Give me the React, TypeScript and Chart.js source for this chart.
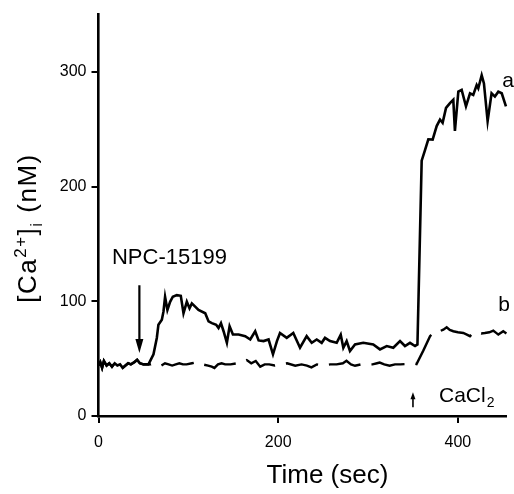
import React, { useEffect, useRef } from "react";
import { Chart, registerables } from "chart.js";

Chart.register(...registerables);

// Trace a (solid)
const timeA = [0, 2, 4, 6, 9, 12, 15, 18, 21, 24, 27, 30, 33, 36, 40, 43, 46, 50, 53, 55.6, 61.2, 64.9, 66.7, 70.5, 72.3, 74.1, 76.7, 79.7, 82.7, 87.1, 91.6, 94.6, 98.3, 101.3, 103.9, 107.6, 111.3, 118.8, 122.5, 126.2, 131, 133.6, 136.3, 139.2, 142.9, 145.9, 149.6, 155.9, 163.3, 168.9, 174.4, 178.2, 183.7, 189.3, 194.2, 198.6, 202, 209.5, 216.8, 224.3, 231.7, 237.3, 242.9, 248.4, 252.1, 257.7, 265.1, 269.6, 272.5, 276.2, 279.9, 285.5, 294.7, 305.8, 313.3, 320.8, 328.1, 335.6, 341.1, 346.7, 352.3, 355, 359.7, 363.5, 367.1, 371.9, 376.4, 380.1, 383, 386.8, 391.2, 394.9, 396.7, 400.5, 404.2, 409, 413.5, 417.1, 420.9, 422.7, 426.5, 429, 433.1, 437.5, 441.2, 445, 448.8, 453.5];
const valuesA = [44, 47, 42, 48, 44, 46, 43, 46, 44, 45, 42, 44, 46, 45, 47, 49, 46, 45, 45, 45, 53.8, 68, 79.6, 83.9, 91, 103.9, 92.5, 99.6, 104, 105.4, 104.8, 89.6, 99.6, 93.9, 98.2, 95.3, 92.5, 89.6, 82.5, 81, 79.6, 76.7, 81, 73.9, 63.8, 78.2, 71, 71, 69.6, 66.7, 73.9, 65.9, 65.3, 66.7, 53.8, 65.3, 72.4, 68.1, 72.4, 59.5, 69.6, 63.8, 66.7, 63.8, 68.1, 65.3, 63.8, 70.8, 59.5, 65.3, 56.7, 62.4, 63.8, 62.4, 58.1, 61, 59.5, 65.3, 61, 63.8, 61, 62.4, 222.7, 232, 241.3, 241, 252.8, 258.5, 255.7, 268.6, 272.8, 275.7, 248.5, 282.8, 284.3, 270, 281.4, 280, 288.6, 285.7, 297.1, 290, 257.1, 281.4, 278.5, 282.8, 281.4, 270];

// Trace b (dashed)
const timeB = [0, 2, 4, 6, 9, 12, 15, 18, 21, 24, 27, 30, 33, 36, 40, 43, 46, 50, 53, 58, 62, 66, 70, 74, 78, 82, 86, 90, 94, 98, 104, 110, 116, 122, 126, 129, 133, 137, 141, 147, 154, 160, 165, 170, 175, 180, 185, 190, 196, 203, 210, 219, 226, 232, 237, 243, 250, 258, 265, 272, 276, 281, 285.5, 292, 298, 305, 310, 313, 318, 324, 330, 336, 343, 350, 354, 361.5, 369, 374.5, 380, 383.8, 387.5, 391, 394.9, 400, 406, 410, 413.5, 417, 422, 426, 430, 435, 439.4, 445, 450.5, 454];
const valuesB = [44, 47, 42, 48, 44, 46, 43, 46, 44, 45, 42, 44, 46, 45, 47, 49, 46, 45, 45, 45, 46, 45, 44, 46, 45, 44, 45, 46, 45, 45, 46, 47, 45, 44, 43, 41.9, 45, 46, 45, 45, 46, 47, 48.8, 46, 48, 43, 45, 45, 44, 45, 46, 43.8, 45, 44, 42.4, 45, 44, 45, 45, 46, 48.1, 45, 43.8, 45, 45, 45, 46, 46.6, 45, 43.8, 45, 45, 45.3, 46, 45.3, 57, 69.6, 73.9, 74, 75.3, 77.3, 75, 73.9, 73, 72.4, 71, 69.6, 72.4, 73, 72, 72.4, 73, 74.5, 71, 73.9, 72];

// Axis settings
const xMax = 454;
const yMax = 350;
const tickStep = 100;
const xTickStep = 200;

// Annotations (data coordinates)
const npcLabel = { text: "NPC-15199", x: 15, y: 132.5 };
const npcArrow = { x: 45.5, yFrom: 114, yTo: 55 };
const caLabel = { text: "CaCl", sub: "2", x: 379, y: 12.3 };
const caArrow = { x: 350, yFrom: 7.7, yTo: 20.6 };
const labelA = { text: "a", x: 455.8, y: 292 };
const labelB = { text: "b", x: 451.3, y: 97 };

const FONT = "'Liberation Sans', Arial, Helvetica, sans-serif";

const annotationPlugin = {
  id: "annotations",
  afterDraw(chart: any) {
    const ctx = chart.ctx as CanvasRenderingContext2D;
    const xs = chart.scales.x;
    const ys = chart.scales.y;
    const px = (v: number) => xs.getPixelForValue(v);
    const py = (v: number) => ys.getPixelForValue(v);
    ctx.save();
    ctx.fillStyle = "#000";
    ctx.strokeStyle = "#000";

    // NPC label
    ctx.font = `22px ${FONT}`;
    ctx.textAlign = "left";
    ctx.textBaseline = "alphabetic";
    ctx.fillText(npcLabel.text, px(npcLabel.x), py(npcLabel.y));

    // NPC arrow
    const ax = px(npcArrow.x);
    const ay1 = py(npcArrow.yFrom);
    const ay2 = py(npcArrow.yTo);
    ctx.lineWidth = 2.2;
    ctx.beginPath();
    ctx.moveTo(ax, ay1);
    ctx.lineTo(ax, ay2 - 8);
    ctx.stroke();
    ctx.beginPath();
    ctx.moveTo(ax - 4, ay2 - 14);
    ctx.lineTo(ax + 4, ay2 - 14);
    ctx.lineTo(ax, ay2);
    ctx.closePath();
    ctx.fill();

    // CaCl2 arrow (small, up)
    const cx = px(caArrow.x);
    const cy1 = py(caArrow.yFrom);
    const cy2 = py(caArrow.yTo);
    ctx.lineWidth = 1.6;
    ctx.beginPath();
    ctx.moveTo(cx, cy1);
    ctx.lineTo(cx, cy2 + 4);
    ctx.stroke();
    ctx.beginPath();
    ctx.moveTo(cx - 2.5, cy2 + 7);
    ctx.lineTo(cx + 2.5, cy2 + 7);
    ctx.lineTo(cx, cy2);
    ctx.closePath();
    ctx.fill();

    // CaCl2 label
    ctx.font = `21px ${FONT}`;
    const tx = px(caLabel.x);
    const ty = py(caLabel.y);
    ctx.fillText(caLabel.text, tx, ty);
    const w = ctx.measureText(caLabel.text).width;
    ctx.font = `14px ${FONT}`;
    ctx.fillText(caLabel.sub, tx + w + 1, ty + 5);

    // a / b labels
    ctx.font = `21px ${FONT}`;
    ctx.textAlign = "center";
    ctx.textBaseline = "middle";
    ctx.fillText(labelA.text, px(labelA.x), py(labelA.y));
    ctx.fillText(labelB.text, px(labelB.x), py(labelB.y));

    // X title
    ctx.font = `26px ${FONT}`;
    ctx.textAlign = "center";
    ctx.textBaseline = "alphabetic";
    ctx.fillText("Time (sec)", (xs.left + xs.right) / 2 + 25, 483);

    // Y title with super/subscripts
    const parts = [
      { t: "[Ca", size: 26, dy: 0 },
      { t: "2+", size: 17, dy: -10 },
      { t: "]", size: 26, dy: 0 },
      { t: "i", size: 17, dy: 6 },
      { t: " (nM)", size: 26, dy: 0 },
    ];
    const spacing = 1.5;
    let total = 0;
    for (const p of parts) {
      ctx.font = `${p.size}px ${FONT}`;
      total += ctx.measureText(p.t).width + spacing * p.t.length;
    }
    ctx.save();
    ctx.translate(36, 228);
    ctx.rotate(-Math.PI / 2);
    ctx.textAlign = "left";
    let cur = -total / 2;
    for (const p of parts) {
      ctx.font = `${p.size}px ${FONT}`;
      for (const ch of p.t) {
        ctx.fillText(ch, cur, p.dy);
        cur += ctx.measureText(ch).width + spacing;
      }
    }
    ctx.restore();

    ctx.restore();
  },
};

export default function App() {
  const ref = useRef<HTMLCanvasElement | null>(null);
  useEffect(() => {
    if (!ref.current) return;
    const chart = new Chart(ref.current, {
      type: "line",
      data: {
        datasets: [
          {
            label: "a",
            data: timeA.map((t, i) => ({ x: t, y: valuesA[i] })),
            borderColor: "#000",
            borderWidth: 2.6,
            pointRadius: 0,
            tension: 0,
            fill: false,
          },
          {
            label: "b",
            data: timeB.map((t, i) => ({ x: t, y: valuesB[i] })),
            borderColor: "#000",
            borderWidth: 2.4,
            borderDash: [34, 11],
            pointRadius: 0,
            tension: 0,
            fill: false,
          },
        ],
      },
      options: {
        responsive: false,
        animation: false,
        clip: false as any,
        layout: { padding: { left: 0, top: 8.5, right: 7.6, bottom: 0 } },
        plugins: {
          legend: { display: false },
          tooltip: { enabled: false },
        },
        scales: {
          x: {
            type: "linear",
            min: 0,
            max: xMax,
            afterFit: (s: any) => {
              s.height = 78;
            },
            ticks: {
              stepSize: xTickStep,
              includeBounds: false,
              color: "#000",
              font: { family: FONT, size: 16 },
              padding: 10,
              maxRotation: 0,
            },
            grid: {
              drawOnChartArea: false,
              drawTicks: true,
              tickLength: 7,
              color: "#000",
              lineWidth: 2,
            },
            border: { display: true, color: "#000", width: 2.6 },
          },
          y: {
            type: "linear",
            min: 0,
            max: yMax,
            afterFit: (s: any) => {
              s.width = 98.5;
            },
            ticks: {
              stepSize: tickStep,
              includeBounds: false,
              color: "#000",
              font: { family: FONT, size: 16 },
              padding: 5,
            },
            grid: {
              drawOnChartArea: false,
              drawTicks: true,
              tickLength: 7,
              color: "#000",
              lineWidth: 2,
            },
            border: { display: true, color: "#000", width: 2.6 },
          },
        },
      },
      plugins: [annotationPlugin],
    });
    return () => chart.destroy();
  }, []);
  return (
    <div style={{ position: "absolute", left: 0, top: 0, width: 514, height: 494, background: "#fff" }}>
      <canvas ref={ref} width={514} height={494} style={{ display: "block" }} />
    </div>
  );
}
